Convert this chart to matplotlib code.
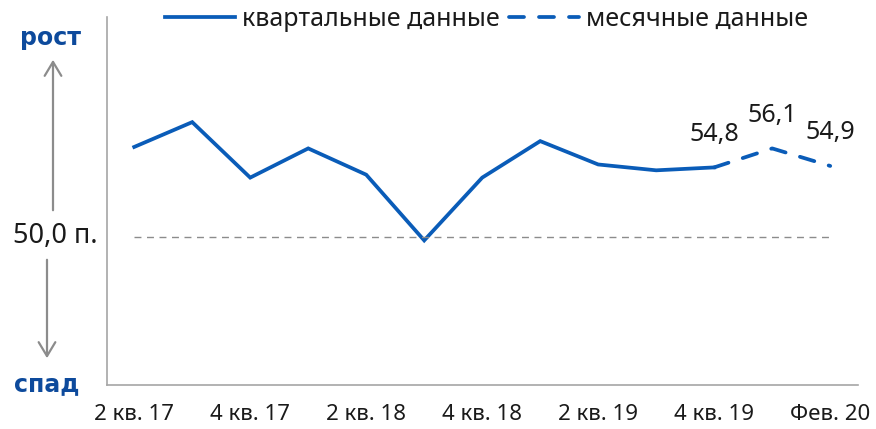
import numpy as np
import matplotlib
matplotlib.use("Agg")
import matplotlib.pyplot as plt

BLUE      = "#0a5cb8"
DARK_BLUE = "#0d4a9c"
GREY      = "#8c8c8c"
TEXT_COL  = "#1a1a1a"

plt.rcParams["font.family"] = ["Noto Sans", "DejaVu Sans"]

# категории оси X (13 позиций, подписаны через одну)
categories = ["2 кв. 17", "3 кв. 17", "4 кв. 17", "1 кв. 18", "2 кв. 18",
              "3 кв. 18", "4 кв. 18", "1 кв. 19", "2 кв. 19", "3 кв. 19",
              "4 кв. 19", "Янв. 20", "Фев. 20"]
shown_ticks = [0, 2, 4, 6, 8, 10, 12]

# квартальные данные (позиции 0..10)
quarterly = [56.2, 57.9, 54.1, 56.1, 54.3, 49.8, 54.1, 56.6, 55.0, 54.6, 54.8]
# месячные данные (позиции 10..12)
monthly_pos = [10, 11, 12]
monthly = [54.8, 56.1, 54.9]
monthly_labels = ["54,8", "56,1", "54,9"]

baseline = 50.0

fig = plt.figure(figsize=(8.76, 4.29), dpi=100, facecolor="white")
ax = fig.add_axes([0.1221, 0.1026, 0.8574, 0.8578])

ax.plot(range(len(quarterly)), quarterly, color=BLUE, linewidth=2.7,
        solid_joinstyle="miter", label="квартальные данные")
ax.plot(monthly_pos, monthly, color=BLUE, linewidth=2.7,
        linestyle=(0, (4.0, 4.0)), dash_capstyle="round",
        label="месячные данные")
ax.hlines(baseline, 0, len(categories) - 1, colors=GREY, linewidth=1.0,
          linestyles=(0, (5, 4)))

for x, y, lab in zip(monthly_pos, monthly, monthly_labels):
    ax.annotate(lab, (x, y), xytext=(0, 33), textcoords="offset pixels",
                ha="center", va="center", fontsize=18, color=TEXT_COL)

ax.set_xlim(-0.47, 12.48)
ax.set_ylim(39.9, 65.1)

ax.set_xticks(shown_ticks)
ax.set_xticklabels([categories[i] for i in shown_ticks], fontsize=16,
                   color=TEXT_COL)
ax.tick_params(axis="x", length=0, pad=14)
ax.set_yticks([])

for s in ["top", "right"]:
    ax.spines[s].set_visible(False)
for s in ["left", "bottom"]:
    ax.spines[s].set_color("#a6a6a6")
    ax.spines[s].set_linewidth(1.2)

# подписи слева
fig.text(50 / 876, 1 - 38 / 429, "рост", ha="center", va="center",
         fontsize=17, fontweight="bold", family="DejaVu Sans",
         color=DARK_BLUE)
fig.text(47 / 876, 1 - 384 / 429, "спад", ha="center", va="center",
         fontsize=17, fontweight="bold", family="DejaVu Sans",
         color=DARK_BLUE)
fig.text(55 / 876, 1 - 236 / 429, "50,0 п.", ha="center", va="center",
         fontsize=19.5, color=TEXT_COL)

arrow = dict(arrowstyle="->,head_length=0.5,head_width=0.3", color=GREY,
             lw=1.6, mutation_scale=20)
fig.add_artist(plt.Annotation("", xy=(53, 429 - 57), xytext=(53, 429 - 213),
                              xycoords="figure pixels",
                              textcoords="figure pixels", arrowprops=arrow))
fig.add_artist(plt.Annotation("", xy=(47, 429 - 361), xytext=(47, 429 - 257),
                              xycoords="figure pixels",
                              textcoords="figure pixels", arrowprops=arrow))

fig.legend(loc="center left", bbox_to_anchor=(155 / 876, 1 - 19 / 429),
           ncol=2, frameon=False, fontsize=18, handlelength=2.8,
           handletextpad=0.3, columnspacing=0.35, borderaxespad=0,
           labelcolor=TEXT_COL)

fig.savefig("out.png", dpi=100, facecolor="white")
